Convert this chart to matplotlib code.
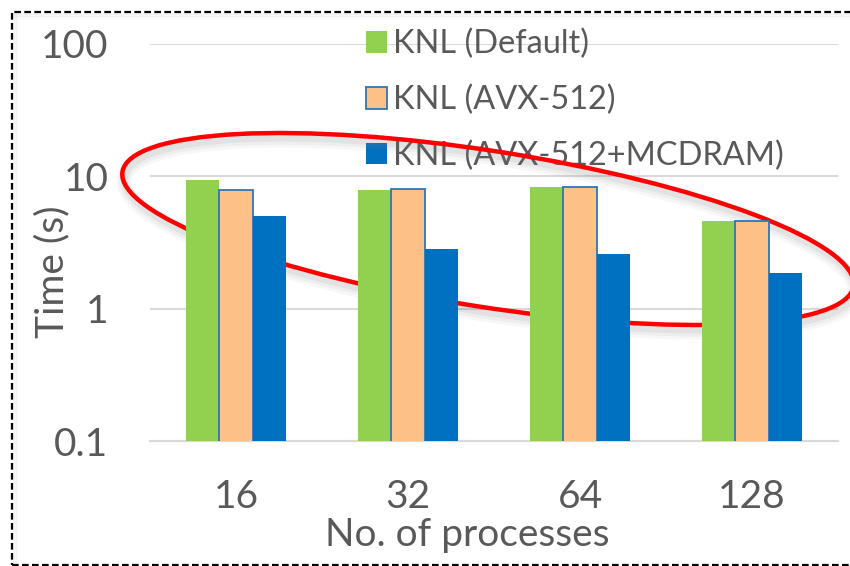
import matplotlib
matplotlib.use("Agg")
import matplotlib.pyplot as plt
import numpy as np
from matplotlib.patches import Ellipse, Rectangle
from matplotlib.lines import Line2D
from matplotlib.transforms import IdentityTransform

plt.rcParams['font.family'] = ['Lato', 'DejaVu Sans']

# Data
processes = ["16", "32", "64", "128"]
series_names = ["KNL (Default)", "KNL (AVX-512)", "KNL (AVX-512+MCDRAM)"]
knl_default = [9.4, 7.95, 8.3, 4.6]
knl_avx512 = [7.95, 8.0, 8.3, 4.6]
knl_avx512_mcdram = [5.0, 2.8, 2.6, 1.85]
y_ticks = [0.1, 1, 10, 100]
y_tick_labels = ["0.1", "1", "10", "100"]

text_color = "#595959"
colors = ["#92D050", "#FDC086", "#0070C0"]

W, H, DPI = 850, 566, 100
fig = plt.figure(figsize=(W / DPI, H / DPI), dpi=DPI)
fig.patch.set_facecolor("white")

# Plot area in pixels: x 150..838, y 44..441 (from top)
left, right, top, bottom = 150, 838, 44, 441
ax = fig.add_axes([left / W, (H - bottom) / H, (right - left) / W, (bottom - top) / H])

x = np.arange(len(processes))
bw = 0.193
values = [knl_default, knl_avx512, knl_avx512_mcdram]
for i, (vals, name, c) in enumerate(zip(values, series_names, colors)):
    kw = dict(color=c, width=bw, label=name, zorder=3)
    if i == 1:
        kw.update(edgecolor="#2E75B6", linewidth=1.3)
    else:
        kw.update(linewidth=0)
    ax.bar(x + (i - 1) * bw, vals, **kw)

ax.set_yscale("log")
ax.set_ylim(0.1, 100)
ax.set_xlim(-0.5, len(processes) - 0.5)
ax.set_yticks(y_ticks)
ax.set_yticklabels(y_tick_labels)
ax.minorticks_off()
ax.set_xticks(x)
ax.set_xticklabels(processes)
ax.tick_params(axis="both", length=0, labelsize=28, colors=text_color)
ax.tick_params(axis="y", pad=30)
ax.tick_params(axis="x", pad=27)
ax.grid(axis="y", color="#D9D9D9", linewidth=1.5, zorder=0)
ax.set_axisbelow(True)
for s in ["top", "right", "left"]:
    ax.spines[s].set_visible(False)
ax.spines["bottom"].set_color("#D9D9D9")
ax.spines["bottom"].set_linewidth(1.5)

ax.set_xlabel("No. of processes", fontsize=28, color=text_color)
ax.xaxis.set_label_coords(0.461, -0.192)
ax.set_ylabel("Time (s)", fontsize=28, color=text_color)
ax.yaxis.set_label_coords(-0.116, 0.426)

leg = ax.legend(loc="upper left", bbox_to_anchor=(366 / W, 1 - 29 / H),
                bbox_transform=fig.transFigure, frameon=False, fontsize=23.4,
                handlelength=0.65, handleheight=0.65, handletextpad=0.18,
                labelspacing=0.78, borderpad=0, borderaxespad=0)
for t in leg.get_texts():
    t.set_color(text_color)
leg.set_zorder(1)

# Highlight ellipse (pixel coordinates, y from bottom) with a soft shadow
cx, cy = 488, H - 229
ew, eh, ang = 740, 156, -8.9
for k, a in enumerate([0.10, 0.08, 0.06]):
    sh = Ellipse((cx + 2, cy - 5 - k), ew, eh, angle=ang, fill=False,
                 edgecolor="#808080", linewidth=5 + 3 * k, alpha=a,
                 transform=IdentityTransform(), zorder=1.5, clip_on=False)
    ax.add_artist(sh)
ell = Ellipse((cx, cy), ew, eh, angle=ang, fill=False, edgecolor="#FF0000",
              linewidth=3.2, transform=IdentityTransform(), zorder=2,
              clip_on=False)
ax.add_artist(ell)

# Soft inner shadow along the frame's left and top edges
for k, a in enumerate([0.10, 0.07, 0.045, 0.025]):
    fig.add_artist(Line2D([14 + 1.5 * k] * 2, [2, H - 14], color="#7f7f7f",
                          alpha=a, linewidth=1.2, transform=IdentityTransform()))
    fig.add_artist(Line2D([14, W], [H - 14 - 1.5 * k] * 2, color="#7f7f7f",
                          alpha=a, linewidth=1.2, transform=IdentityTransform()))

# Dashed frame around the chart
frame = Rectangle((12, 1), 850, H - 13, fill=False, edgecolor="black",
                  linewidth=1.6, linestyle=(0, (3, 1.5)),
                  transform=IdentityTransform(), clip_on=False, zorder=10)
fig.add_artist(frame)

fig.savefig("out.png", dpi=DPI)
